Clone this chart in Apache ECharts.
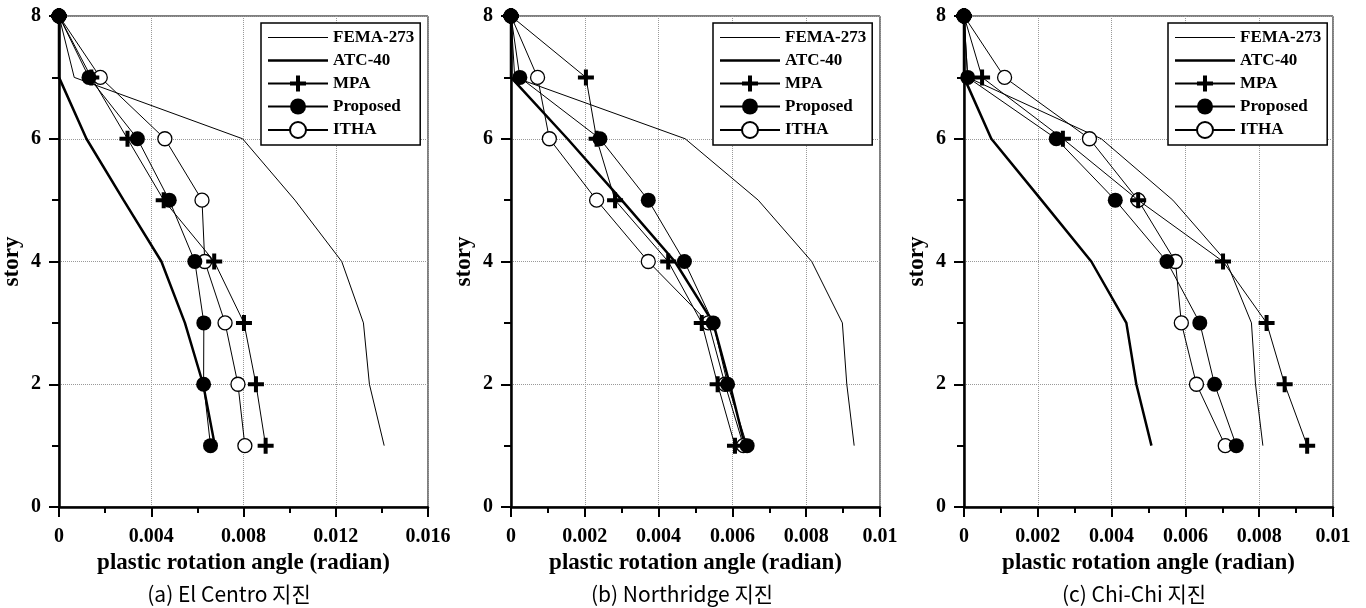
<!DOCTYPE html>
<html><head><meta charset="utf-8">
<script src="https://cdn.jsdelivr.net/npm/echarts@6/dist/echarts.min.js"></script>
<style>html,body{margin:0;padding:0;background:#fff}#c{width:1366px;height:608px}</style>
</head><body><div id="c"></div>
<script>
const stories = [8, 7, 6, 5, 4, 3, 2, 1];
const seriesNames = ['FEMA-273', 'ATC-40', 'MPA', 'Proposed', 'ITHA'];
const captions = ['(a) El Centro 지진', '(b) Northridge 지진', '(c) Chi-Chi 지진'];
const xMax = [0.016, 0.01, 0.01];
const xInterval = [0.004, 0.002, 0.002];

const femaA = [0, 0.00066, 0.00796, 0.01023, 0.01226, 0.0132, 0.01346, 0.0141];
const atcA  = [0, 0, 0.00119, 0.0028, 0.00444, 0.00546, 0.00625, 0.00676];
const mpaA  = [0, 0.0014, 0.00297, 0.00454, 0.00673, 0.00802, 0.00854, 0.00896];
const propA = [0, 0.0013, 0.0034, 0.00478, 0.00589, 0.00628, 0.00627, 0.00657];
const ithaA = [0, 0.00179, 0.00459, 0.0062, 0.00632, 0.0072, 0.00776, 0.00806];

const femaB = [0, 0.0001, 0.00472, 0.0067, 0.00815, 0.00898, 0.0091, 0.0093];
const atcB  = [0, 0, 0.00153, 0.0030, 0.00444, 0.00548, 0.00593, 0.00634];
const mpaB  = [0, 0.00203, 0.00232, 0.00282, 0.00426, 0.00517, 0.0056, 0.00607];
const propB = [0, 0.00024, 0.00241, 0.00372, 0.0047, 0.00548, 0.00587, 0.0064];
const ithaB = [0, 0.00072, 0.00104, 0.00232, 0.00372, 0.00535, 0.0058, 0.0063];

const femaC = [0, 0.0001, 0.00372, 0.00566, 0.00711, 0.00779, 0.0079, 0.0081];
const atcC  = [0, 0, 0.00074, 0.0021, 0.00345, 0.0044, 0.00467, 0.00508];
const mpaC  = [0, 0.00049, 0.00268, 0.00472, 0.00702, 0.0082, 0.00869, 0.0093];
const propC = [0, 0.0001, 0.0025, 0.0041, 0.0055, 0.00639, 0.00679, 0.00738];
const ithaC = [0, 0.0011, 0.0034, 0.00472, 0.00573, 0.00589, 0.0063, 0.00708];

const panels = [
  {fema: femaA, atc: atcA, mpa: mpaA, prop: propA, itha: ithaA},
  {fema: femaB, atc: atcB, mpa: mpaB, prop: propB, itha: ithaB},
  {fema: femaC, atc: atcC, mpa: mpaC, prop: propC, itha: ithaC}
];

const gridLeft = [59, 511, 964];
const gridW = 369;
const legendLeft = [261, 713, 1168];
const captionX = [224, 677, 1129];
const serif = '"Liberation Serif", "Times New Roman", serif';
const plusPath = 'path://M6,0h4v6h6v4h-6v6h-4v-6h-6v-4h6z';
const thinIcon = 'path://M0,0h60v1h-60z';
const thickIcon = 'path://M0,0h60v2.5h-60z';

function pts(xs) { return xs.map((v, i) => [v, stories[i]]); }

const legendData = seriesNames.map(n => n === 'FEMA-273' ? {name: n, icon: thinIcon}
  : n === 'ATC-40' ? {name: n, icon: thickIcon} : {name: n});

const grid = [], xAxis = [], yAxis = [], series = [], legend = [], title = [];
panels.forEach((p, k) => {
  grid.push({left: gridLeft[k], width: gridW, top: 16, height: 491, show: true, borderColor: '#000', borderWidth: 1, backgroundColor: 'transparent'});
  xAxis.push({
    type: 'value', gridIndex: k, min: 0, max: xMax[k], interval: xInterval[k],
    name: 'plastic rotation angle (radian)', nameLocation: 'middle', nameGap: 42,
    nameTextStyle: {fontFamily: serif, fontWeight: 'bold', fontSize: 23, color: '#000'},
    axisLine: {lineStyle: {color: '#000', width: 2.5}},
    axisTick: {length: 10, lineStyle: {color: '#000', width: 2}},
    minorTick: {show: true, splitNumber: 2, length: 6, lineStyle: {color: '#000', width: 2}},
    axisLabel: {fontFamily: serif, fontWeight: 'bold', fontSize: 20, color: '#000', margin: 20,
      formatter: v => v === 0 ? '0' : String(+v.toFixed(4))},
    splitLine: {show: true, lineStyle: {color: '#999', type: 'dotted', width: 1}}
  });
  yAxis.push({
    type: 'value', gridIndex: k, min: 0, max: 8, interval: 2,
    name: 'story', nameLocation: 'middle', nameGap: 35,
    nameTextStyle: {fontFamily: serif, fontWeight: 'bold', fontSize: 23, color: '#000'},
    axisLine: {lineStyle: {color: '#000', width: 2.5}},
    axisTick: {length: 10, lineStyle: {color: '#000', width: 2}},
    minorTick: {show: true, splitNumber: 2, length: 7, lineStyle: {color: '#000', width: 2}},
    axisLabel: {fontFamily: serif, fontWeight: 'bold', fontSize: 20, color: '#000', margin: 18},
    splitLine: {show: true, lineStyle: {color: '#999', type: 'dotted', width: 1}}
  });
  const base = {type: 'line', xAxisIndex: k, yAxisIndex: k, animation: false};
  series.push(Object.assign({}, base, {name: 'FEMA-273', data: pts(p.fema), symbol: 'none', lineStyle: {color: '#000', width: 1}, itemStyle: {color: '#000'}, z: 2}));
  series.push(Object.assign({}, base, {name: 'ATC-40', data: pts(p.atc), symbol: 'none', lineStyle: {color: '#000', width: 2.5}, itemStyle: {color: '#000'}, z: 2}));
  series.push(Object.assign({}, base, {name: 'ITHA', data: pts(p.itha), symbol: 'circle', symbolSize: 14, lineStyle: {color: '#000', width: 1}, itemStyle: {color: '#fff', borderColor: '#000', borderWidth: 1.3}, z: 3}));
  series.push(Object.assign({}, base, {name: 'MPA', data: pts(p.mpa), symbol: plusPath, symbolSize: 16, lineStyle: {color: '#000', width: 1}, itemStyle: {color: '#000'}, z: 4}));
  series.push(Object.assign({}, base, {name: 'Proposed', data: pts(p.prop), symbol: 'circle', symbolSize: 15, lineStyle: {color: '#000', width: 1}, itemStyle: {color: '#000'}, z: 5}));
  legend.push({
    data: legendData, orient: 'vertical', left: legendLeft[k], top: 23,
    itemWidth: 60, itemHeight: 20, itemGap: 6, padding: [6, 6, 6, 6],
    borderColor: '#000', borderWidth: 1.5, backgroundColor: '#fff',
    textStyle: {fontFamily: serif, fontWeight: 'bold', fontSize: 17, color: '#000'},
    selectedMode: false
  });
  title.push({text: captions[k], left: captionX[k], top: 579, textAlign: 'center',
    textStyle: {fontFamily: '"Noto Sans CJK KR", "Liberation Sans", sans-serif', fontWeight: 'normal', fontSize: 21, color: '#000'}});
});

const chart = echarts.init(document.getElementById('c'), null, {renderer: 'canvas'});
chart.setOption({backgroundColor: '#fff', animation: false, title, grid, xAxis, yAxis, legend, series});
</script></body></html>
